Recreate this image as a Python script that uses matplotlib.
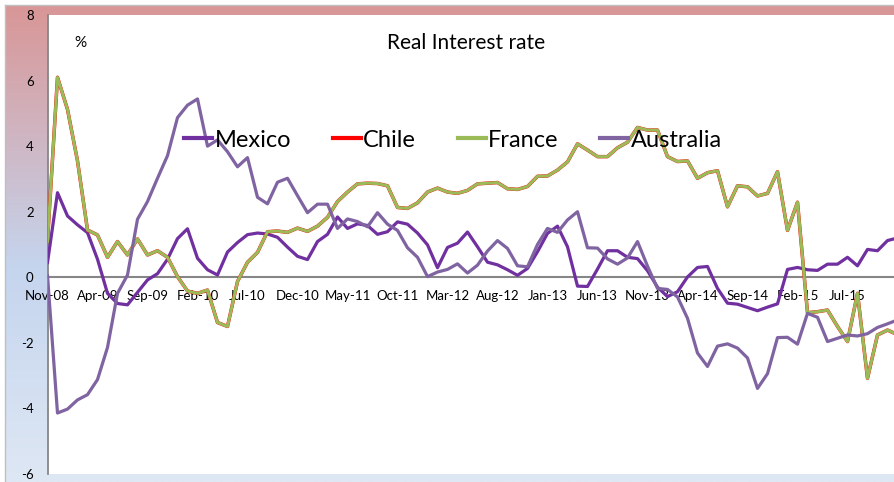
import numpy as np
import pandas as pd
import matplotlib
matplotlib.use("Agg")
import matplotlib.pyplot as plt
from matplotlib.colors import LinearSegmentedColormap

plt.rcParams['font.family'] = ['Lato', 'DejaVu Sans']

# ---------------- data ----------------
mexico = [0.45, 2.58, 1.87, 1.6, 1.36, 0.55, -0.49, -0.8, -0.84, -0.46,
          -0.08, 0.11, 0.55, 1.18, 1.48, 0.58, 0.23, 0.07, 0.77, 1.06,
          1.3, 1.35, 1.32, 1.22, 0.92, 0.64, 0.54, 1.09, 1.31, 1.84,
          1.49, 1.63, 1.58, 1.31, 1.39, 1.69, 1.62, 1.35, 0.99, 0.29,
          0.91, 1.04, 1.38, 0.93, 0.46, 0.38, 0.23, 0.06, 0.27, 0.78,
          1.34, 1.56, 0.93, -0.27, -0.28, 0.25, 0.81, 0.81, 0.61, 0.57,
          0.2, -0.3, -0.59, -0.44, 0.01, 0.3, 0.33, -0.34, -0.79, -0.82,
          -0.92, -1.02, -0.91, -0.81, 0.24, 0.3, 0.23, 0.21, 0.4, 0.4,
          0.61, 0.35, 0.85, 0.81, 1.12, 1.2]

france = [1.1, 6.1, 5.12, 3.55, 1.44, 1.29, 0.61, 1.09, 0.68, 1.17,
          0.68, 0.81, 0.61, 0.02, -0.42, -0.49, -0.39, -1.38, -1.5, -0.13,
          0.46, 0.76, 1.39, 1.41, 1.37, 1.5, 1.4, 1.56, 1.83, 2.31,
          2.6, 2.85, 2.87, 2.86, 2.79, 2.13, 2.1, 2.27, 2.6, 2.72,
          2.6, 2.56, 2.65, 2.85, 2.87, 2.89, 2.7, 2.68, 2.77, 3.08,
          3.09, 3.27, 3.52, 4.07, 3.88, 3.68, 3.68, 3.95, 4.12, 4.57,
          4.49, 4.49, 3.68, 3.53, 3.55, 3.02, 3.19, 3.25, 2.15, 2.79,
          2.76, 2.48, 2.56, 3.22, 1.43, 2.29, -1.08, -1.05, -1.0, -1.5,
          -1.96, -0.49, -3.08, -1.76, -1.61, -1.75]

# Chile's line lies directly under France's
chile = list(france)

australia = [0.05, -4.14, -4.02, -3.74, -3.58, -3.12, -2.14, -0.49, 0.07, 1.77,
             2.31, 3.02, 3.71, 4.87, 5.25, 5.44, 4.0, 4.19, 3.83, 3.37,
             3.65, 2.44, 2.24, 2.9, 3.02, 2.49, 1.97, 2.23, 2.23, 1.49,
             1.78, 1.7, 1.54, 1.97, 1.62, 1.43, 0.9, 0.61, 0.02, 0.16,
             0.24, 0.41, 0.13, 0.37, 0.8, 1.12, 0.88, 0.35, 0.32, 1.0,
             1.49, 1.37, 1.75, 2.0, 0.9, 0.89, 0.56, 0.4, 0.59, 1.09,
             0.34, -0.34, -0.37, -0.6, -1.25, -2.31, -2.72, -2.1, -2.03, -2.16,
             -2.46, -3.39, -2.94, -1.84, -1.83, -2.04, -1.1, -1.22, -1.96, -1.86,
             -1.76, -1.79, -1.72, -1.53, -1.42, -1.3]

months = pd.date_range('2008-11-01', periods=len(mexico), freq='MS').strftime('%b-%y').tolist()
tick_step = 5
y_ticks = [-6, -4, -2, 0, 2, 4, 6, 8]

series_names = ["Mexico", "Chile", "France", "Australia"]

# ---------------- figure ----------------
W, H = 894, 482
fig = plt.figure(figsize=(W / 100, H / 100), dpi=100)
fig.patch.set_facecolor('white')

# background gradient (chart area)
bg = fig.add_axes([0, 0, 1, 1], zorder=-10)
bg.set_xlim(0, W)
bg.set_ylim(H, 0)
bg.axis('off')
cmap = LinearSegmentedColormap.from_list(
    'bg', [(0.0, (217/255, 150/255, 150/255)),
           (0.55, (197/255, 213/255, 238/255)),
           (1.0, (222/255, 231/255, 244/255))])
grad = np.linspace(0, 1, 256).reshape(-1, 1)
bg.imshow(grad, cmap=cmap, aspect='auto', extent=(5, W, H, 5), interpolation='bilinear')
bg.plot([5, 5], [5, H], color='#BFBFBF', lw=1)
bg.plot([5, W], [5, 5], color='#BFBFBF', lw=1)

# plot area
left_px, top_px, bottom_px = 47.5, 15, 474
ax = fig.add_axes([left_px / W, (H - bottom_px) / H, 1 - left_px / W, (bottom_px - top_px) / H])
ax.set_facecolor('white')

x = np.arange(len(mexico))
c_mex = '#7030A0'
c_chi = '#FF0000'
c_fra = '#9BBB59'
c_aus = '#8064A2'

l1, = ax.plot(x, mexico, color=c_mex, lw=2.3, zorder=3)
l2, = ax.plot(x, chile, color=c_chi, lw=2.5, zorder=3)
l3, = ax.plot(x, france, color=c_fra, lw=2.2, zorder=3)
l4, = ax.plot(x, australia, color=c_aus, lw=2.3, zorder=3)

x_max = (W - left_px) / 10.0
ax.set_ylim(-6, 8)
ax.set_xlim(0, x_max)
ax.set_yticks(y_ticks)
ax.set_yticklabels([str(v) for v in y_ticks])
tick_idx = [i for i in range(0, len(months), tick_step) if i <= x_max - 3]
ax.set_xticks(tick_idx)
ax.set_xticklabels([months[i] for i in tick_idx])

for s in ['top', 'right']:
    ax.spines[s].set_visible(False)
ax.spines['left'].set_color('#868686')
ax.spines['left'].set_linewidth(1.3)
ax.spines['bottom'].set_position(('data', 0))
ax.spines['bottom'].set_color('#868686')
ax.spines['bottom'].set_linewidth(1.5)
ax.spines['bottom'].set_zorder(2)
ax.tick_params(axis='both', length=0, labelsize=9.5, colors='black')
ax.tick_params(axis='y', pad=10)
ax.tick_params(axis='x', pad=9)

leg = fig.legend([l1, l2, l3, l4], series_names, loc='center',
                 bbox_to_anchor=(453 / W, 1 - 140 / H), ncol=4, frameon=False,
                 fontsize=17, handlelength=1.2, handletextpad=0.1, columnspacing=1.75,
                 borderpad=0, borderaxespad=0)
for line in leg.get_lines():
    line.set_linewidth(3)

fig.text(466 / W, 1 - 43 / H, "Real Interest rate", ha='center', va='center', fontsize=15)
fig.text(80 / W, 1 - 43 / H, "%", ha='center', va='center', fontsize=11)

fig.savefig('out.png', dpi=100)
